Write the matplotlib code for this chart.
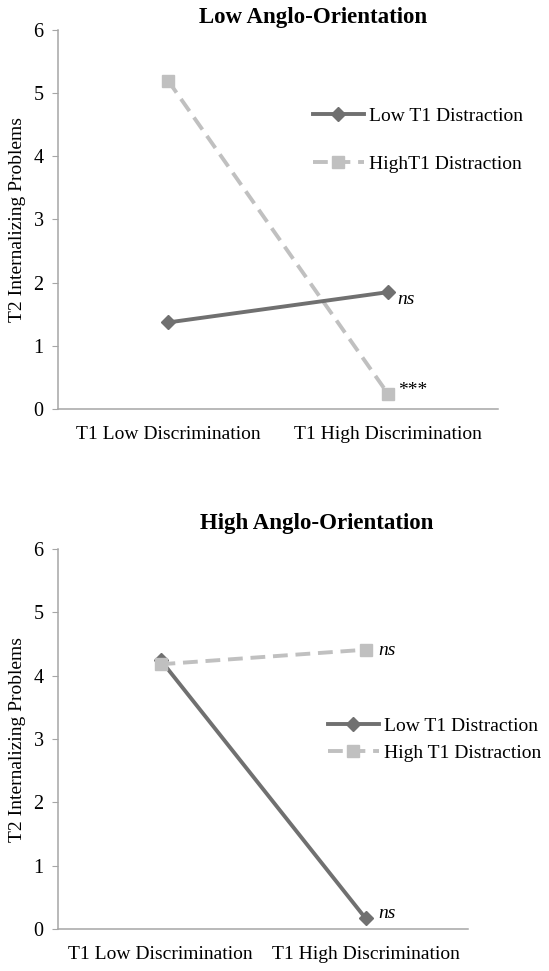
import matplotlib.pyplot as plt

plt.rcParams['font.family'] = ['Liberation Serif', 'DejaVu Serif']

categories = ['T1 Low Discrimination', 'T1 High Discrimination']

# Low Anglo-Orientation panel
low_anglo_low_dist = [1.37, 1.85]
low_anglo_high_dist = [5.20, 0.24]
low_anglo_notes = ['ns', '***']

# High Anglo-Orientation panel
high_anglo_low_dist = [4.25, 0.17]
high_anglo_high_dist = [4.18, 4.41]
high_anglo_notes = ['ns', 'ns']

yticks = [0, 1, 2, 3, 4, 5, 6]

dark = '#707070'
light = '#c0c0c0'
axis_col = '#a6a6a6'

W, H = 549, 971
fig = plt.figure(figsize=(W / 100, H / 100), dpi=100)


def make_axes(left, top_px, bottom_px, right_px):
    return fig.add_axes([left / W, 1 - bottom_px / H, (right_px - left) / W,
                         (bottom_px - top_px) / H])


def style(ax, title, title_pos, label_x):
    ax.set_xlim(-0.5, 1.5)
    ax.set_ylim(0, 6)
    ax.set_yticks(yticks)
    ax.set_xticks([0, 1])
    ax.set_xticklabels(categories, fontsize=14)
    ax.tick_params(axis='x', length=0, pad=12.5)
    ax.tick_params(axis='y', length=4.3, color=axis_col, labelsize=14.5, pad=6)
    for s in ['top', 'right']:
        ax.spines[s].set_visible(False)
    for s in ['left', 'bottom']:
        ax.spines[s].set_color(axis_col)
        ax.spines[s].set_linewidth(1.1)
    ax.set_ylabel('T2 Internalizing Problems', fontsize=14)
    ax.yaxis.set_label_coords(label_x, 0.5)
    fig.text(title_pos[0] / W, 1 - title_pos[1] / H, title, ha='center',
             va='center', fontsize=16.5, fontweight='bold')


dash = (0, (3.8, 2.0))

# top panel
ax1 = make_axes(58, 30, 409, 498)
ax1.plot([0, 1], low_anglo_low_dist, color=dark, lw=2.8, marker='D', ms=6.8,
         label='Low T1 Distraction', zorder=3)
ax1.plot([0, 1], low_anglo_high_dist, color=light, lw=2.8, ls=dash,
         marker='s', ms=8.5, label='HighT1 Distraction', zorder=2)
style(ax1, 'Low Anglo-Orientation', (313, 17), -0.073)
ax1.text(1.04, low_anglo_low_dist[1] - 0.195, low_anglo_notes[0], style='italic',
         fontsize=14, ha='left', va='baseline')
ax1.text(1.045, low_anglo_high_dist[1] - 0.02, low_anglo_notes[1], fontsize=14,
         ha='left', va='baseline')
ax1.legend(loc='upper left', bbox_to_anchor=(313 / W, 1 - 107.5 / H),
           bbox_transform=fig.transFigure, frameon=False, fontsize=14,
           handlelength=2.6, handletextpad=0.28, labelspacing=1.57,
           borderaxespad=0, borderpad=0)

# bottom panel
ax2 = make_axes(58, 549, 929, 468)
ax2.plot([0, 1], high_anglo_low_dist, color=dark, lw=2.8, marker='D', ms=6.8,
         label='Low T1 Distraction', zorder=2)
ax2.plot([0, 1], high_anglo_high_dist, color=light, lw=2.8, ls=dash,
         marker='s', ms=8.5, label='High T1 Distraction', zorder=3)
style(ax2, 'High Anglo-Orientation', (317, 523), -0.078)
ax2.text(1.061, high_anglo_high_dist[1] - 0.08, high_anglo_notes[0], style='italic',
         fontsize=14, ha='left', va='baseline')
ax2.text(1.061, high_anglo_low_dist[1], high_anglo_notes[1], style='italic',
         fontsize=14, ha='left', va='baseline')
ax2.legend(loc='upper left', bbox_to_anchor=(328 / W, 1 - 717.5 / H),
           bbox_transform=fig.transFigure, frameon=False, fontsize=14,
           handlelength=2.6, handletextpad=0.3, labelspacing=0.49,
           borderaxespad=0, borderpad=0)

fig.savefig('out.png', dpi=100)
